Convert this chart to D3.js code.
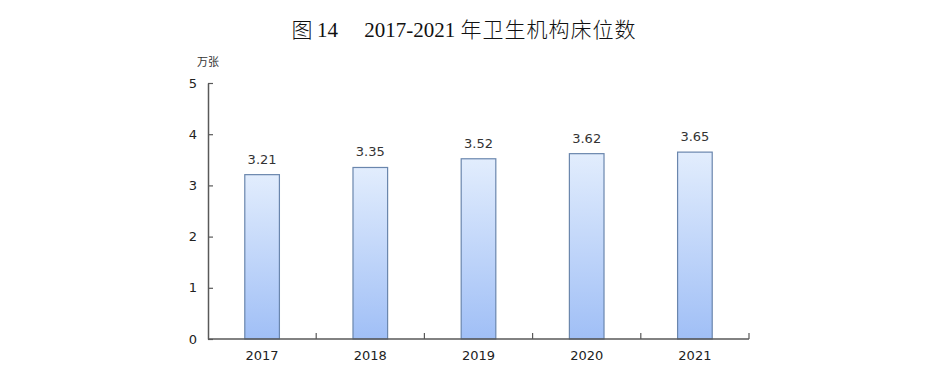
<!DOCTYPE html>
<html>
<head>
<meta charset="utf-8">
<script src="https://cdn.jsdelivr.net/npm/d3@7"></script>
<style>
  body { margin: 0; background: #fff; }
  #chart text { font-family: "DejaVu Sans", sans-serif; }
</style>
</head>
<body>
<div id="chart"></div>
<script>
var years = ['2017', '2018', '2019', '2020', '2021'];
var beds = [3.21, 3.35, 3.52, 3.62, 3.65];
var yTicks = [0, 1, 2, 3, 4, 5];

(function () {
  var totalWidth = 928, totalHeight = 369;
  var margin = { top: 83, right: 179, bottom: 30, left: 208 };
  var width = totalWidth - margin.left - margin.right;
  var height = totalHeight - margin.top - margin.bottom;

  var root = d3.select('#chart').append('svg')
    .attr('width', totalWidth)
    .attr('height', totalHeight);

  var defs = root.append('defs');
  var grad = defs.append('linearGradient')
    .attr('id', 'barFill')
    .attr('x1', 0).attr('y1', 0).attr('x2', 0).attr('y2', 1);
  grad.append('stop').attr('offset', '0%').attr('stop-color', '#e2edfd');
  grad.append('stop').attr('offset', '100%').attr('stop-color', '#a0bff6');

  // title
  var title = root.append('text')
    .attr('x', 464)
    .attr('y', 37)
    .attr('text-anchor', 'middle')
    .style('font-size', '21px')
    .style('fill', '#111');
  title.append('tspan').style('font-family', '"Noto Sans CJK SC"').style('font-weight', 300).text('图 ');
  title.append('tspan').style('font-family', '"Liberation Serif", serif').text('14\u00a0\u00a0\u00a0\u00a0\u00a02017-2021 ');
  title.append('tspan').style('font-family', '"Noto Sans CJK SC"').style('font-weight', 300).style('letter-spacing', '1px').text('年卫生机构床位数');

  var svg = root.append('g')
    .attr('transform', 'translate(' + margin.left + ',' + margin.top + ')');

  var x = d3.scaleBand().domain(years).range([0, width]).paddingInner(0.68).paddingOuter(0.34);
  var xb = d3.scaleLinear().domain([0, years.length]).range([0, width]);
  var y = d3.scaleLinear().domain([0, 5]).range([height, 0]);

  // y axis
  var yAxis = d3.axisLeft(y).tickValues(yTicks).tickFormat(d3.format('d'))
    .tickSizeInner(-5).tickSizeOuter(0).tickPadding(11);
  var yg = svg.append('g').call(yAxis);
  yg.select('.domain').attr('stroke', '#595959').attr('stroke-width', 1.5);
  yg.selectAll('.tick line').attr('stroke', '#595959').attr('stroke-width', 1.2);
  yg.selectAll('.tick text').style('font-size', '13px').style('fill', '#222');

  // unit label
  svg.append('text')
    .attr('x', 0)
    .attr('y', -17)
    .attr('text-anchor', 'middle')
    .style('font-family', '"Noto Sans CJK SC"')
    .style('font-size', '11px')
    .style('fill', '#333')
    .text('万张');

  // bars
  svg.selectAll('rect.bar')
    .data(beds)
    .enter()
    .append('rect')
    .attr('class', 'bar')
    .attr('x', function (d, i) { return x(years[i]); })
    .attr('y', function (d) { return y(d); })
    .attr('width', x.bandwidth())
    .attr('height', function (d) { return height - y(d); })
    .attr('fill', 'url(#barFill)')
    .attr('stroke', '#6a86ad')
    .attr('stroke-width', 1.2);

  svg.selectAll('text.val')
    .data(beds)
    .enter()
    .append('text')
    .attr('class', 'val')
    .attr('x', function (d, i) { return x(years[i]) + x.bandwidth() / 2; })
    .attr('y', function (d) { return y(d) - 11; })
    .attr('text-anchor', 'middle')
    .style('font-size', '13px')
    .style('fill', '#333')
    .text(function (d) { return d.toFixed(2); });

  // x axis
  var xg = svg.append('g').attr('transform', 'translate(0,' + height + ')');
  xg.append('line')
    .attr('x1', 0).attr('x2', width)
    .attr('stroke', '#595959').attr('stroke-width', 1.5);
  xg.selectAll('line.tk')
    .data(d3.range(1, years.length + 1))
    .enter()
    .append('line')
    .attr('class', 'tk')
    .attr('x1', function (d) { return xb(d); })
    .attr('x2', function (d) { return xb(d); })
    .attr('y1', 0).attr('y2', -6)
    .attr('stroke', '#595959').attr('stroke-width', 1.2);
  xg.selectAll('text')
    .data(years)
    .enter()
    .append('text')
    .attr('x', function (d) { return x(d) + x.bandwidth() / 2; })
    .attr('y', 21)
    .attr('text-anchor', 'middle')
    .style('font-size', '13px')
    .style('fill', '#222')
    .text(function (d) { return d; });
})();
</script>
</body>
</html>
